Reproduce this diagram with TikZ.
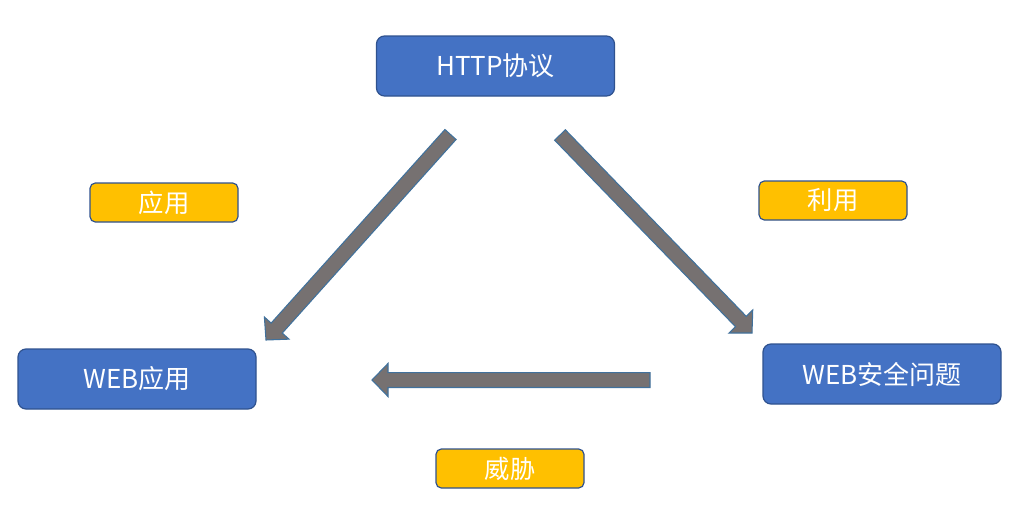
\documentclass[tikz,border=0pt]{standalone}
\usepackage{fontspec}
\setmainfont{Noto Sans CJK SC}
\usetikzlibrary{calc}
\definecolor{boxblue}{HTML}{4472C4}
\definecolor{boxedge}{HTML}{2F528F}
\definecolor{labelyellow}{HTML}{FFC000}
\definecolor{arrowgray}{HTML}{767171}
\definecolor{arrowedge}{HTML}{41719C}
\tikzset{
  mainbox/.style={draw=boxedge, line width=0.9pt, fill=boxblue, rounded corners=6pt,
    minimum width=238*0.75pt, minimum height=60*0.75pt, text=white, font=\fontsize{19.5pt}{21pt}\selectfont, inner sep=0pt},
  tagbox/.style={draw=boxedge, line width=0.9pt, fill=labelyellow, rounded corners=4pt,
    minimum width=148*0.75pt, minimum height=39*0.75pt, text=white, font=\fontsize{19pt}{21pt}\selectfont, inner sep=0pt},
  blockarrow/.style={fill=arrowgray, draw=arrowedge, line width=0.8pt, line join=miter}
}
\newcommand\drawblockarrow[2]{%
  \path ($(#2)!12pt!(#1)$) coordinate (bb);
  \draw[blockarrow] ($(#1)!5.6pt!90:(#2)$) -- ($(bb)!5.6pt!90:(#2)$) -- ($(bb)!12.4pt!90:(#2)$)
    -- (#2) -- ($(bb)!12.4pt!-90:(#2)$) -- ($(bb)!5.6pt!-90:(#2)$) -- ($(#1)!5.6pt!-90:(#2)$) -- cycle;}
\begin{document}
\begin{tikzpicture}[x=0.75pt,y=-0.75pt]
\useasboundingbox (0,0) rectangle (1022,514);
\node[mainbox] (http) at (495.5,66) {HTTP协议};
\node[mainbox] (webapp) at (137,379) {WEB应用};
\node[mainbox] (websec) at (882,374) {WEB安全问题};
\node[tagbox] (apply) at (164,202.5) {应用};
\node[tagbox] (use) at (833,200.5) {利用};
\node[tagbox] (threat) at (510,468.5) {威胁};
\coordinate (lt) at (450.5,134.5);
\coordinate (lh) at (266,340);
\coordinate (rt) at (560,135);
\coordinate (rh) at (752,333);
\coordinate (bt) at (650,380);
\coordinate (bh) at (372,380);
\drawblockarrow{lt}{lh}
\drawblockarrow{rt}{rh}
\drawblockarrow{bt}{bh}
\end{tikzpicture}
\end{document}
